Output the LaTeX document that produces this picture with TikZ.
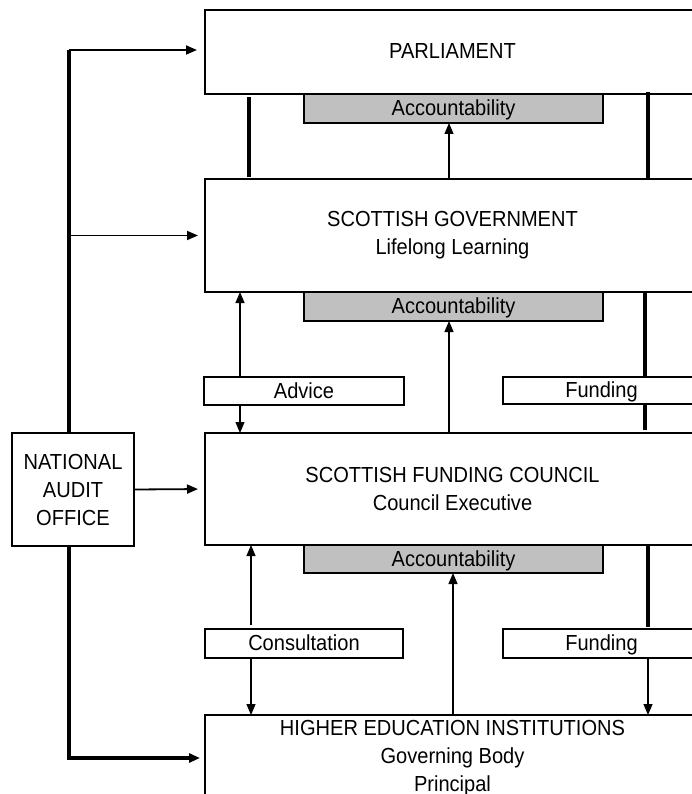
\documentclass[tikz,border=0pt]{standalone}
\usepackage{fontspec}
\setmainfont{Liberation Sans}[FakeStretch=0.92]
\usetikzlibrary{arrows.meta}
\definecolor{accgray}{RGB}{192,192,192}
\begin{document}
\begin{tikzpicture}[x=1pt,y=-1pt,
  every node/.style={font=\fontsize{21.8}{28}\selectfont, inner sep=0pt, outer sep=0pt},
  oneline/.style={text height=18pt, text depth=4pt},
  mainbox/.style={draw, line width=2pt, fill=white, anchor=north west, minimum width=495pt, align=center},
  accbox/.style={draw, line width=2pt, fill=accgray, anchor=north west, minimum width=299pt, oneline},
  labbox/.style={draw, line width=2pt, fill=white, anchor=north west, oneline},
  tip/.style={-{Triangle[length=11pt,width=9pt]}},
  thinarrow/.style={line width=1.2pt, tip},
  medarrow/.style={line width=1.8pt, tip},
  thickline/.style={line width=3.5pt},
  thickarrow/.style={line width=3.5pt, tip}]
\clip (0,0) rectangle (692,794);
% column coordinates
\coordinate (cL) at (249,0);
\coordinate (cR) at (648,0);
\coordinate (cF) at (645,0);
\coordinate (cM) at (449,0);
\coordinate (cM2) at (453,0);
\coordinate (cA) at (240,0);
\coordinate (cC) at (251,0);
\coordinate (cN) at (69,0);
\coordinate (nTop) at (69,50);
% main boxes
\node[mainbox, oneline, minimum height=84pt] (parl) at (205,10) {PARLIAMENT};
\node[mainbox, minimum height=113pt] (sg) at (205,179) {SCOTTISH GOVERNMENT\\Lifelong Learning};
\node[mainbox, minimum height=112pt] (sfc) at (205,433) {SCOTTISH FUNDING COUNCIL\\Council Executive};
\node[mainbox, minimum height=86pt] (hei) at (205,715) {HIGHER EDUCATION INSTITUTIONS\\Governing Body\\Principal};
% accountability
\node[accbox, minimum height=29pt] (acc1) at (304,94) {Accountability};
\node[accbox, minimum height=29pt] (acc2) at (304,292) {Accountability};
\node[accbox, minimum height=28pt] (acc3) at (304,545) {Accountability};
% label boxes
\node[labbox, minimum width=200pt, minimum height=28pt] (adv) at (204,377) {Advice};
\node[labbox, minimum width=197pt, minimum height=27pt] (fund1) at (503,377) {Funding};
\node[labbox, minimum width=198pt, minimum height=29pt] (cons) at (205,629) {Consultation};
\node[labbox, minimum width=197pt, minimum height=29pt] (fund2) at (503,629) {Funding};
% NAO
\node[draw, line width=2pt, anchor=north west, minimum width=122pt, minimum height=113pt, align=center] (nao) at (12,433) {NATIONAL\\AUDIT\\OFFICE};
% parliament - government
\draw[thickline, shorten <=3pt, shorten >=2pt] (parl.south -| cL) -- (sg.north -| cL);
\draw[thickline, shorten <=-2pt] (parl.south -| cR) -- (sg.north -| cR);
\draw[thinarrow] (sg.north -| cM) -- (acc1.south -| cM);
% government - council
\draw[thinarrow] (sfc.north -| cM) -- (acc2.south -| cM);
\draw[thinarrow] (adv.north -| cA) -- (sg.south -| cA);
\draw[thinarrow] (adv.south -| cA) -- (sfc.north -| cA);
\draw[thickline] (sg.south -| cF) -- (fund1.north -| cF);
\draw[thickline, shorten >=3pt] (fund1.south -| cF) -- (sfc.north -| cF);
% council - institutions
\draw[thinarrow] (hei.north -| cM2) -- (acc3.south -| cM2);
\draw[thinarrow, shorten <=4pt] (cons.north -| cC) -- (sfc.south -| cC);
\draw[thinarrow] (cons.south -| cC) -- (hei.north -| cC);
\draw[thickline, shorten >=2pt] (sfc.south -| cR) -- (fund2.north -| cR);
\draw[thinarrow] (fund2.south -| cR) -- (hei.north -| cR);
% national audit office
\draw[thickline] (nao.north -| cN) -- (nTop);
\draw[medarrow, shorten >=8pt] (nTop) -- (nTop -| parl.west);
\draw[medarrow, shorten >=7pt] (sg.west -| cN) -- (sg.west);
\draw[medarrow, shorten >=7pt] (nao.east) -- (sfc.west);
\draw[thickarrow, shorten >=5pt] (nao.south -| cN) |- (hei.west);
\end{tikzpicture}
\end{document}
